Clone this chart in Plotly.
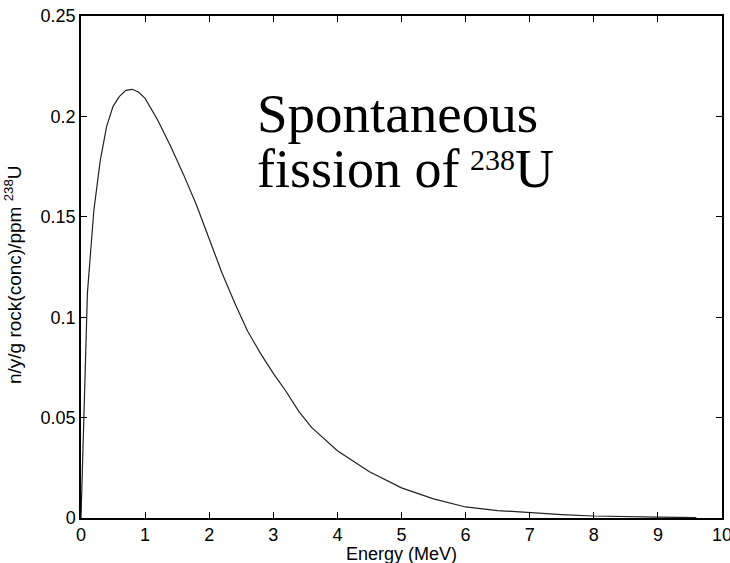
import plotly.graph_objects as go

# Neutron yield spectrum from spontaneous fission of U-238
energy_mev = [0.0, 0.05, 0.1, 0.2, 0.3, 0.4, 0.5, 0.6, 0.7, 0.8, 0.9, 1.0,
              1.2, 1.4, 1.6, 1.8, 2.0, 2.2, 2.4, 2.6, 2.8, 3.0, 3.2, 3.4,
              3.6, 3.8, 4.0, 4.5, 5.0, 5.5, 6.0, 6.5, 7.0, 7.5, 8.0, 8.5,
              9.0, 9.6]
yield_per_ppm = [0.0, 0.062, 0.112, 0.153, 0.178, 0.195, 0.205, 0.210,
                 0.213, 0.2135, 0.212, 0.209, 0.198, 0.185, 0.171, 0.156,
                 0.139, 0.122, 0.107, 0.093, 0.082, 0.072, 0.063, 0.053,
                 0.045, 0.039, 0.0335, 0.023, 0.015, 0.0095, 0.0055,
                 0.0037, 0.0026, 0.0017, 0.0010, 0.0006, 0.0004, 0.0002]

x_ticks = list(range(0, 11))
y_ticks = [0, 0.05, 0.1, 0.15, 0.2, 0.25]
y_tick_text = ["0", "0.05", "0.1", "0.15", "0.2", "0.25"]

SANS = "Liberation Sans, Arial, sans-serif"
SERIF = "Liberation Serif, Times New Roman, serif"

fig = go.Figure()
fig.add_trace(go.Scatter(
    x=energy_mev, y=yield_per_ppm, mode="lines",
    line=dict(color="#222222", width=1.2), showlegend=False,
))

axis_common = dict(
    showline=True, linecolor="black", linewidth=1.5, mirror="ticks",
    ticks="inside", ticklen=6, tickwidth=1, tickcolor="black",
    showgrid=False, zeroline=False,
)

fig.update_xaxes(range=[0, 10], tickvals=x_ticks, ticklabeloverflow="allow",
                 ticklabelstandoff=0,
                 tickfont=dict(family=SANS, size=18, color="black"), **axis_common)
fig.update_yaxes(range=[0, 0.25], tickvals=y_ticks, ticktext=y_tick_text,
                 tickfont=dict(family=SANS, size=18, color="black"), **axis_common)

fig.update_layout(
    width=730, height=563,
    margin=dict(l=81, r=8, t=16, b=45, autoexpand=False),
    plot_bgcolor="white", paper_bgcolor="white",
    annotations=[
        dict(text="Energy (MeV)", xref="paper", yref="paper", x=0.5, y=0,
             yshift=-48, showarrow=False, yanchor="bottom",
             font=dict(family=SANS, size=18, color="black")),
        dict(text="n/y/g rock(conc)/ppm <sup>238</sup>U", xref="paper", yref="paper",
             x=0, y=0.5, xshift=-68, yshift=-8, textangle=-90, showarrow=False,
             xanchor="center", yanchor="middle",
             font=dict(family=SANS, size=19, color="black")),
        dict(text="Spontaneous", xref="x", yref="y", x=2.72, y=0.1855,
             showarrow=False, xanchor="left", yanchor="bottom",
             font=dict(family=SERIF, size=55, color="black")),
        dict(text="fission of", xref="x", yref="y", x=2.72, y=0.158,
             showarrow=False, xanchor="left", yanchor="bottom",
             font=dict(family=SERIF, size=54, color="black")),
        dict(text="238", xref="x", yref="y", x=6.04, y=0.1695,
             showarrow=False, xanchor="left", yanchor="bottom",
             font=dict(family=SERIF, size=30, color="black")),
        dict(text="U", xref="x", yref="y", x=6.74, y=0.158,
             showarrow=False, xanchor="left", yanchor="bottom",
             font=dict(family=SERIF, size=54, color="black")),
    ],
)

fig.write_html("out.html")
